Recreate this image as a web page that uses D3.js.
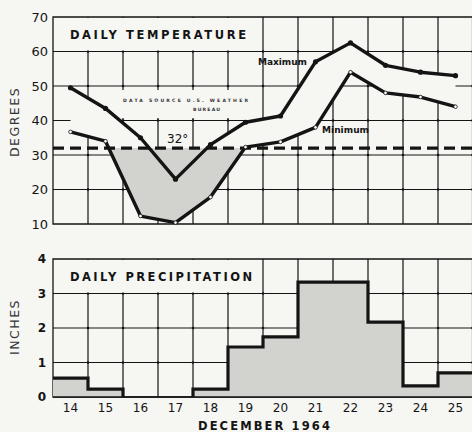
<!DOCTYPE html>
<html>
<head>
<meta charset="utf-8">
<script src="https://cdn.jsdelivr.net/npm/d3@7"></script>
<style>
  body { margin: 0; background: #f6f6f3; }
  svg { display: block; }
</style>
</head>
<body>
<div id="chart"></div>
<script>
// december 1964, one value per day
var days = [14, 15, 16, 17, 18, 19, 20, 21, 22, 23, 24, 25];
var maxTemp = [49.5, 43.5, 35, 23, 33, 39.5, 41.3, 57, 62.5, 56, 54, 53];
var minTemp = [36.7, 34, 12.3, 10.4, 17.8, 32.3, 33.8, 38, 54, 48, 46.8, 44];
var precip = [0.55, 0.23, 0, 0, 0.23, 1.45, 1.74, 3.33, 3.33, 2.17, 0.32, 0.7];
var tempTicks = [10, 20, 30, 40, 50, 60, 70];
var precipTicks = [0, 1, 2, 3, 4];
var freezing = 32;

var width = 472;
var height = 432;
var left = 53;
var right = 473;
var bg = "#f6f6f3";
var ink = "#141414";
var shade = "#d2d2cf";
var font = "'DejaVu Sans', sans-serif";

var svg = d3.select("#chart").append("svg")
    .attr("width", width)
    .attr("height", height)
    .style("background", bg)
    .style("font-family", font);

var x = d3.scaleBand().domain(days).range([left, right]);
var bw = x.bandwidth();
function xc(d) { return x(d) + bw / 2; }

var yT = d3.scaleLinear().domain([10, 70]).range([224, 17]);
var yP = d3.scaleLinear().domain([0, 4]).range([397, 259]);

// grid + frame for one panel, with the blank title box in the top-left cell row
function drawGrid(g, y, ticks, boxRight) {
  var top = y(ticks[ticks.length - 1]);
  var bottom = y(ticks[0]);
  var bounds = days.slice(1).map(d => x(d)).concat([right - 0.5]);

  g.append("g").selectAll("line")
    .data(ticks.slice(1, -1))
    .join("line")
      .attr("x1", left).attr("x2", right)
      .attr("y1", d => y(d)).attr("y2", d => y(d))
      .attr("stroke", ink).attr("stroke-width", 1.1);

  g.append("g").selectAll("line")
    .data(bounds)
    .join("line")
      .attr("x1", d => d).attr("x2", d => d)
      .attr("y1", top).attr("y2", bottom)
      .attr("stroke", ink).attr("stroke-width", 1.2);

  // little crosses where the lines meet
  var pts = [];
  bounds.forEach(bx => ticks.slice(1, -1).forEach(t => pts.push([bx, y(t)])));
  g.append("g").selectAll("circle")
    .data(pts)
    .join("circle")
      .attr("cx", d => d[0]).attr("cy", d => d[1])
      .attr("r", 1.3).attr("fill", ink);

  g.append("rect")
    .attr("x", left + 1).attr("y", top + 1)
    .attr("width", boxRight - left - 1)
    .attr("height", y(ticks[ticks.length - 2]) - top - 2)
    .attr("fill", bg);

  g.append("path")
    .attr("d", `M${right},${top} H${left} V${bottom} H${right}`)
    .attr("fill", "none")
    .attr("stroke", ink)
    .attr("stroke-width", 1.3);
}

// ---------- temperature panel ----------
var gT = svg.append("g");
drawGrid(gT, yT, tempTicks, 256);

var recs = days.map((d, i) => ({day: d, hi: maxTemp[i], lo: minTemp[i], p: precip[i]}));

// band between max and min hides the grid
gT.append("path")
  .datum(recs)
  .attr("fill", bg)
  .attr("d", d3.area().x(d => xc(d.day)).y0(d => yT(d.lo)).y1(d => yT(d.hi)));

// shading below freezing
svg.append("clipPath").attr("id", "below")
  .append("rect")
    .attr("x", left).attr("y", yT(freezing))
    .attr("width", right - left).attr("height", yT(10) - yT(freezing));

gT.append("path")
  .datum(recs)
  .attr("clip-path", "url(#below)")
  .attr("fill", shade)
  .attr("d", d3.area().x(d => xc(d.day)).y0(yT(freezing)).y1(d => yT(d.lo)));

// data source note
gT.append("rect")
  .attr("x", 116).attr("y", 90).attr("width", 138).attr("height", 28)
  .attr("fill", bg);
gT.append("text")
  .attr("x", 123).attr("y", 102)
  .attr("textLength", 125).attr("lengthAdjust", "spacing")
  .attr("font-size", 4.6).attr("font-weight", "bold").attr("fill", "#333")
  .text("DATA SOURCE  U.S.  WEATHER");
gT.append("text")
  .attr("x", 193).attr("y", 111)
  .attr("textLength", 27).attr("lengthAdjust", "spacing")
  .attr("font-size", 4.6).attr("font-weight", "bold").attr("fill", "#333")
  .text("BUREAU");

gT.append("line")
  .attr("x1", left).attr("x2", right)
  .attr("y1", yT(freezing)).attr("y2", yT(freezing))
  .attr("stroke", ink).attr("stroke-width", 3.2)
  .attr("stroke-dasharray", "11,6");

gT.append("path")
  .datum(recs)
  .attr("fill", "none").attr("stroke", ink).attr("stroke-width", 3.4)
  .attr("stroke-linejoin", "round")
  .attr("d", d3.line().x(d => xc(d.day)).y(d => yT(d.hi)));
gT.append("path")
  .datum(recs)
  .attr("fill", "none").attr("stroke", ink).attr("stroke-width", 3.4)
  .attr("stroke-linejoin", "round")
  .attr("d", d3.line().x(d => xc(d.day)).y(d => yT(d.lo)));

gT.append("g").selectAll("circle")
  .data(recs)
  .join("circle")
    .attr("cx", d => xc(d.day)).attr("cy", d => yT(d.hi))
    .attr("r", 2.6).attr("fill", ink);
gT.append("g").selectAll("circle")
  .data(recs)
  .join("circle")
    .attr("cx", d => xc(d.day)).attr("cy", d => yT(d.lo))
    .attr("r", 1.8).attr("fill", "#fff")
    .attr("stroke", ink).attr("stroke-width", 0.8);

gT.append("text")
  .attr("x", 70).attr("y", 39)
  .attr("textLength", 176).attr("lengthAdjust", "spacing")
  .attr("font-size", 11.5).attr("font-weight", "bold").attr("fill", ink)
  .text("DAILY TEMPERATURE");

gT.append("text")
  .attr("x", 258).attr("y", 65)
  .attr("textLength", 49).attr("lengthAdjust", "spacing")
  .attr("font-size", 9).attr("font-weight", "bold").attr("fill", ink)
  .text("Maximum");
gT.append("text")
  .attr("x", 322).attr("y", 133)
  .attr("textLength", 47).attr("lengthAdjust", "spacing")
  .attr("font-size", 9).attr("font-weight", "bold").attr("fill", ink)
  .text("Minimum");
gT.append("text")
  .attr("x", 167).attr("y", 143)
  .attr("font-size", 12).attr("fill", ink)
  .text("32°");

gT.append("g").selectAll("text")
  .data(tempTicks)
  .join("text")
    .attr("x", 48).attr("y", d => yT(d))
    .attr("dy", "0.36em")
    .attr("text-anchor", "end")
    .attr("font-size", 13).attr("fill", ink)
    .text(d => d);

svg.append("text")
  .attr("transform", "translate(19,122) rotate(-90)")
  .attr("text-anchor", "middle")
  .attr("font-size", 12.5).attr("letter-spacing", 1.5).attr("fill", "#333")
  .text("DEGREES");

// ---------- precipitation panel ----------
var gP = svg.append("g");
drawGrid(gP, yP, precipTicks, 258);

// step outline: each day is one flat segment across its band
var steps = [];
recs.forEach(d => {
  steps.push({x: x(d.day), v: d.p});
  if (d.p === 0) steps.push(null);
  steps.push({x: x(d.day) + bw, v: d.p});
});

gP.append("path")
  .datum(steps.filter(s => s))
  .attr("fill", shade)
  .attr("d", d3.area().x(s => s.x).y0(yP(0)).y1(s => yP(s.v)));

gP.append("line")
  .attr("x1", left).attr("x2", right)
  .attr("y1", yP(0)).attr("y2", yP(0))
  .attr("stroke", ink).attr("stroke-width", 1.3);

gP.append("path")
  .datum(steps)
  .attr("fill", "none").attr("stroke", ink).attr("stroke-width", 3.2)
  .attr("stroke-linejoin", "miter")
  .attr("d", d3.line().defined(s => s !== null).x(s => s.x).y(s => yP(s.v)));

gP.append("text")
  .attr("x", 70).attr("y", 281)
  .attr("textLength", 182).attr("lengthAdjust", "spacing")
  .attr("font-size", 11.5).attr("font-weight", "bold").attr("fill", ink)
  .text("DAILY PRECIPITATION");

gP.append("g").selectAll("text")
  .data(precipTicks)
  .join("text")
    .attr("x", 46).attr("y", d => yP(d))
    .attr("dy", "0.36em")
    .attr("text-anchor", "end")
    .attr("font-size", 12).attr("font-weight", "bold").attr("fill", ink)
    .text(d => d);

svg.append("text")
  .attr("transform", "translate(19,327) rotate(-90)")
  .attr("text-anchor", "middle")
  .attr("font-size", 12.5).attr("letter-spacing", 1.5).attr("fill", "#333")
  .text("INCHES");

gP.append("g").selectAll("text")
  .data(days)
  .join("text")
    .attr("x", d => xc(d)).attr("y", 412)
    .attr("text-anchor", "middle")
    .attr("font-size", 12).attr("fill", ink)
    .text(d => d);

svg.append("text")
  .attr("x", 198).attr("y", 430)
  .attr("textLength", 132).attr("lengthAdjust", "spacing")
  .attr("font-size", 11.5).attr("font-weight", "bold").attr("fill", ink)
  .text("DECEMBER 1964");
</script>
</body>
</html>
